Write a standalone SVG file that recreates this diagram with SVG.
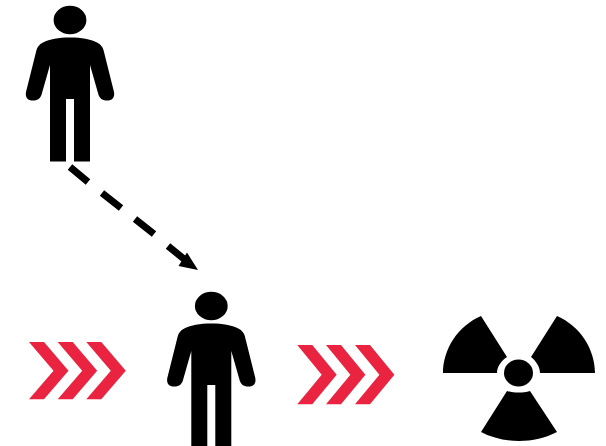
<svg xmlns="http://www.w3.org/2000/svg" width="606" height="446" viewBox="0 0 606 446">
<defs>
<g id="person">
<ellipse cx="70" cy="20" rx="16.400" ry="14.300"/>
<path d="M70 37.500C58 37.500 50 39 43 42.500C39 44.500 37.500 47 36.500 50L26 92C25 98 28 100.500 33 100.500C38 100.500 41 98 42 93L50 65V161.500H66V99H74V161.500H90V65L98 93C99 98 102 100.500 107 100.500C112 100.500 115 98 114 92L103.500 50C102.500 47 101 44.500 97 42.500C90 39 82 37.500 70 37.500Z"/>
</g>
<path id="ch" d="M29 342H44L68.500 370.700L44 399.300H29L53.500 370.700Z"/>
<path id="ch2" d="M297.300 345H312.300L336.700 374.700L312.300 404.300H297.300L321.700 374.700Z"/>
</defs>
<style>.dash{stroke:#000;stroke-width:7;fill:none}.red{fill:#ea2340}</style>
<rect width="606" height="446" fill="#fff"/>
<g id="person-top"><use href="#person"/></g>
<g id="person-bottom"><use href="#person" x="141.300" y="286"/></g>
<g id="chevrons-left" class="red"><use href="#ch"/><use href="#ch" x="28.700"/><use href="#ch" x="57.300"/></g>
<g id="chevrons-right" class="red"><use href="#ch2"/><use href="#ch2" x="28.700"/><use href="#ch2" x="57.700"/></g>
<g id="radiation">
<ellipse cx="518.500" cy="373" rx="14.500" ry="13.500"/>
<path d="M481 316C458 326 443 349 443 373H497C497 367 501 361 507 357Z"/>
<path d="M557 316C580 326 595 349 595 373H540C540 367 536 361 531 357Z"/>
<path d="M507 391C514 393 523 393 530 391L557 432C534 444 504 444 481 432Z"/>
</g>
<g id="connectors">
<path class="dash" d="M70 167L88 182M102 193L121 208M135 219L154 234M168 246L184 259"/>
<path d="M198 270L178.500 266L187 252.500Z"/>
</g>
</svg>
